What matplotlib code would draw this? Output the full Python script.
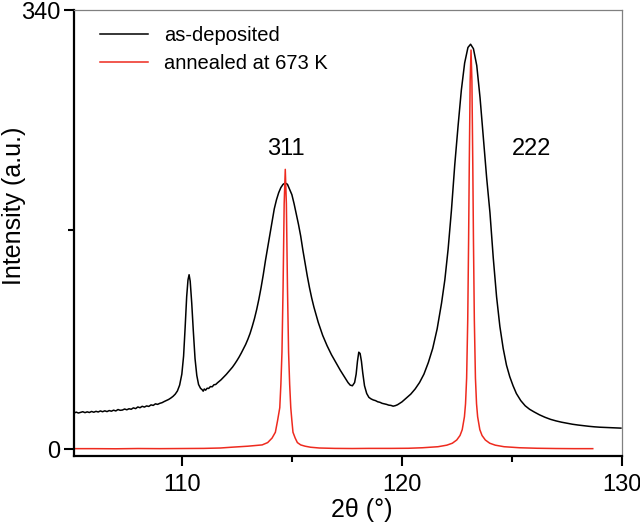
import matplotlib
matplotlib.use("Agg")
import matplotlib.pyplot as plt
from matplotlib.ticker import FixedLocator

plt.rcParams["font.family"] = ["Liberation Sans", "DejaVu Sans"]

# as-deposited pattern (2theta in deg, intensity a.u.)
black_x = [
    105.10, 105.20, 105.30, 105.40, 105.50, 105.60, 105.70, 105.80, 105.90, 106.00,
    106.10, 106.20, 106.30, 106.40, 106.50, 106.60, 106.70, 106.80, 106.90, 107.00,
    107.10, 107.20, 107.30, 107.40, 107.50, 107.60, 107.70, 107.80, 107.90, 108.00,
    108.10, 108.20, 108.30, 108.40, 108.50, 108.60, 108.70, 108.80, 108.90, 109.00,
    109.10, 109.20, 109.30, 109.40, 109.50, 109.60, 109.70, 109.80, 109.90, 110.00,
    110.08, 110.15, 110.22, 110.28, 110.33, 110.38, 110.45, 110.52, 110.60, 110.68,
    110.76, 110.85, 110.92, 110.97, 111.02, 111.08, 111.15, 111.22, 111.30, 111.38,
    111.46, 111.54, 111.62, 111.70, 111.78, 111.86, 111.94, 112.02, 112.10, 112.20,
    112.30, 112.40, 112.50, 112.60, 112.70, 112.80, 112.90, 113.00, 113.10, 113.20,
    113.30, 113.40, 113.50, 113.60, 113.70, 113.80, 113.90, 114.00, 114.10, 114.20,
    114.30, 114.40, 114.50, 114.60, 114.70, 114.80, 114.90, 115.00, 115.10, 115.20,
    115.30, 115.40, 115.50, 115.60, 115.70, 115.80, 115.90, 116.00, 116.20, 116.40,
    116.60, 116.80, 117.00, 117.20, 117.40, 117.55, 117.65, 117.75, 117.85, 117.92,
    117.98, 118.04, 118.10, 118.16, 118.22, 118.30, 118.40, 118.50, 118.60, 118.70,
    118.80, 118.90, 119.00, 119.10, 119.20, 119.30, 119.40, 119.50, 119.60, 119.70,
    119.80, 119.90, 120.00, 120.20, 120.40, 120.60, 120.80, 121.00, 121.20, 121.40,
    121.60, 121.80, 121.95, 122.10, 122.25, 122.40, 122.55, 122.70, 122.85, 123.00,
    123.12, 123.25, 123.40, 123.55, 123.70, 123.85, 124.00, 124.15, 124.30, 124.45,
    124.60, 124.75, 124.90, 125.05, 125.20, 125.40, 125.60, 125.80, 126.00, 126.25,
    126.50, 126.75, 127.00, 127.25, 127.50, 127.75, 128.00, 128.25, 128.50, 128.75,
    129.00, 129.25, 129.50, 129.75, 129.95,
]
black_y = [
    27.8, 28.6, 27.9, 28.4, 28.9, 28.2, 28.8, 28.3, 29.1, 28.5,
    29.2, 28.7, 29.5, 28.9, 29.6, 29.0, 29.8, 29.3, 30.1, 29.5,
    30.6, 30.0, 30.2, 31.0, 30.4, 31.2, 30.8, 31.9, 31.3, 32.6,
    32.0, 33.1, 32.5, 33.4, 33.0, 34.2, 33.8, 35.0, 34.6, 35.4,
    35.9, 36.8, 37.6, 38.4, 39.5, 40.8, 42.5, 45.0, 49.5, 58.0,
    72.0, 94.0, 118.0, 131.0, 135.0, 130.0, 113.0, 92.0, 70.0, 57.0,
    50.0, 47.0, 46.0, 44.8, 46.5, 45.6, 47.1, 46.9, 48.4, 48.2,
    49.8, 50.0, 51.3, 52.4, 53.6, 55.0, 56.3, 57.8, 59.4, 61.3,
    63.4, 65.8, 68.4, 71.2, 74.3, 77.6, 81.0, 85.0, 89.5, 95.0,
    101.0, 108.0, 116.0, 125.0, 135.0, 146.0, 156.0, 166.0, 176.0, 186.0,
    193.0, 198.5, 202.5, 205.0, 206.0, 205.0, 201.0, 197.0, 190.0, 182.0,
    174.0, 165.0, 154.0, 144.0, 134.0, 125.0, 117.0, 110.0, 98.0, 88.0,
    80.0, 73.0, 67.0, 61.0, 55.5, 51.5, 49.5, 49.0, 51.5, 58.0,
    68.0, 75.0, 74.0, 68.0, 59.0, 49.0, 43.0, 40.0, 38.8, 38.0,
    37.5, 36.6, 36.2, 35.4, 35.0, 34.6, 34.0, 33.8, 33.2, 33.6,
    34.3, 35.4, 36.5, 39.5, 42.5, 46.5, 51.5, 58.0, 67.0, 78.0,
    93.0, 113.0, 131.0, 155.0, 185.0, 220.0, 250.0, 278.0, 299.0, 311.0,
    313.5, 310.0, 297.0, 272.0, 241.0, 210.0, 183.0, 148.0, 118.0, 95.0,
    78.0, 65.0, 56.0, 49.0, 43.0, 37.5, 33.5, 30.8, 28.8, 26.5,
    24.6, 23.0, 21.8, 20.8, 20.0, 19.2, 18.6, 18.1, 17.6, 17.2,
    16.9, 16.7, 16.5, 16.3, 16.2,
]

# annealed at 673 K
red_x = [
    105.10, 106.00, 107.00, 108.00, 109.00, 110.00, 111.00, 111.75, 112.25, 113.00,
    113.65, 113.90, 114.10, 114.25, 114.35, 114.45, 114.50, 114.55, 114.60, 114.65,
    114.70, 114.75, 114.80, 114.85, 114.90, 114.95, 115.00, 115.05, 115.15, 115.25,
    115.40, 115.60, 115.85, 116.25, 116.95, 117.75, 118.50, 119.50, 120.30, 120.94,
    121.64, 122.04, 122.29, 122.49, 122.64, 122.74, 122.84, 122.89, 122.94, 122.99,
    123.03, 123.06, 123.10, 123.14, 123.18, 123.22, 123.25, 123.29, 123.34, 123.39,
    123.44, 123.54, 123.64, 123.79, 123.99, 124.24, 124.64, 125.34, 126.14, 127.00,
    127.80, 128.67,
]
red_y = [
    0.3, 0.3, 0.2, 0.4, 0.3, 0.4, 0.5, 0.8, 1.4, 2.2,
    3.2, 5.0, 8.5, 13.0, 22.0, 32.0, 50.0, 75.0, 125.0, 190.0,
    216.6, 190.0, 125.0, 75.0, 50.0, 32.0, 22.0, 13.0, 8.5, 5.0,
    3.2, 2.2, 1.4, 0.8, 0.5, 0.4, 0.5, 0.5, 0.6, 1.0,
    1.8, 3.0, 4.5, 7.0, 10.5, 15.0, 25.0, 35.0, 55.0, 100.0,
    162.0, 220.0, 285.0, 309.0, 285.0, 220.0, 162.0, 100.0, 55.0, 35.0,
    25.0, 15.0, 10.5, 7.0, 4.5, 3.0, 1.8, 1.0, 0.6, 0.4,
    0.3, 0.3,
]

peak_labels = ["311", "222"]
peak_label_x = [114.73, 125.9]
peak_label_y = [232, 232]

x_major = [110, 120, 130]
x_minor = [115, 125]
y_major = [0, 340]
y_minor = [170]

fig = plt.figure(figsize=(6.4, 5.27), dpi=100)
ax = fig.add_axes([0.1156, 0.1347, 0.8563, 0.8463])

ax.plot(black_x, black_y, color="black", lw=1.1, label="as-deposited")
ax.plot(red_x, red_y, color="#ee2a1e", lw=1.1, label="annealed at 673 K")

ax.set_xlim(105.1, 130)
ax.set_ylim(-5.4, 340)

ax.xaxis.set_major_locator(FixedLocator(x_major))
ax.xaxis.set_minor_locator(FixedLocator(x_minor))
ax.yaxis.set_major_locator(FixedLocator(y_major))
ax.yaxis.set_minor_locator(FixedLocator(y_minor))
ax.tick_params(which="major", direction="out", length=7, width=1.5, labelsize=17)
ax.tick_params(which="minor", direction="out", length=4.5, width=1.5)
ax.tick_params(axis="x", which="major", pad=6)
ax.tick_params(axis="y", which="major", pad=3)

for side in ["left", "bottom"]:
    ax.spines[side].set_color("black")
    ax.spines[side].set_linewidth(1.6)
for side in ["top", "right"]:
    ax.spines[side].set_color("#808080")
    ax.spines[side].set_linewidth(0.9)

ax.set_xlabel("2θ (°)", fontsize=18)
ax.set_ylabel("Intensity (a.u.)", fontsize=18)
ax.xaxis.set_label_coords(0.526, -0.095)
ax.yaxis.set_label_coords(-0.088, 0.56)

for txt, tx, ty in zip(peak_labels, peak_label_x, peak_label_y):
    ax.text(tx, ty, txt, fontsize=17, ha="center", va="center")

ax.legend(loc="upper left", frameon=False, fontsize=14.5, handlelength=2.4,
          handletextpad=0.8, labelspacing=0.45, bbox_to_anchor=(0.014, 1.005),
          borderaxespad=0.5)

fig.savefig("out.png", dpi=100)
